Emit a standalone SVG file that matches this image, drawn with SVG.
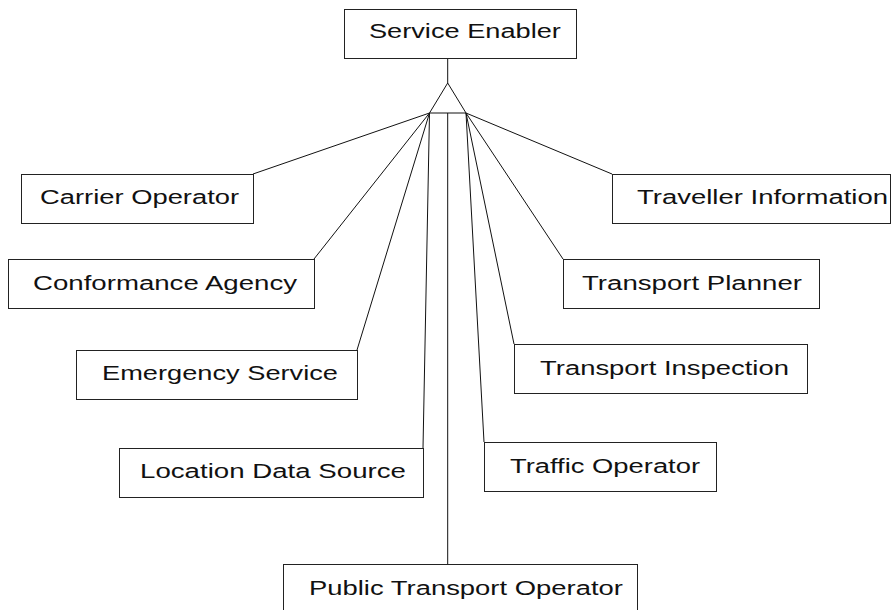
<svg xmlns="http://www.w3.org/2000/svg" width="894" height="610" viewBox="0 0 894 610">
<style>
.box{fill:#fff;stroke:#222;stroke-width:1}
.lbl{font-family:"Liberation Sans",Arial,sans-serif;font-size:21px;fill:#111}
.conn{stroke:#111;stroke-width:1;fill:none}
</style>
<rect width="894" height="610" fill="#fff"/>
<g id="connectors">
<line class="conn" x1="447.7" y1="58" x2="447.7" y2="83"/>
<polygon class="conn" points="447.7,83 429.5,113 466,113"/>
<line class="conn" x1="429.5" y1="113" x2="253" y2="174"/>
<line class="conn" x1="429.5" y1="113" x2="314" y2="259"/>
<line class="conn" x1="429.5" y1="113" x2="357" y2="350"/>
<line class="conn" x1="429.5" y1="113" x2="423" y2="448"/>
<line class="conn" x1="447.7" y1="113" x2="447.7" y2="564"/>
<line class="conn" x1="466" y1="113" x2="484" y2="442"/>
<line class="conn" x1="466" y1="113" x2="514" y2="344"/>
<line class="conn" x1="466" y1="113" x2="563" y2="259"/>
<line class="conn" x1="466" y1="113" x2="612" y2="174"/>
</g>
<g id="service-enabler">
<rect class="box" x="344.5" y="9.5" width="232" height="49"/>
<text class="lbl" transform="scale(1.3,1)" x="283.8" y="38.5" textLength="147.7" lengthAdjust="spacingAndGlyphs">Service Enabler</text>
</g>
<g id="carrier-operator">
<rect class="box" x="21.5" y="174.5" width="232" height="49"/>
<text class="lbl" transform="scale(1.3,1)" x="30.8" y="204.5" textLength="153.1" lengthAdjust="spacingAndGlyphs">Carrier Operator</text>
</g>
<g id="conformance-agency">
<rect class="box" x="8.5" y="259.5" width="306" height="49"/>
<text class="lbl" transform="scale(1.3,1)" x="25.4" y="290.5" textLength="203.1" lengthAdjust="spacingAndGlyphs">Conformance Agency</text>
</g>
<g id="emergency-service">
<rect class="box" x="76.5" y="350.5" width="281" height="49"/>
<text class="lbl" transform="scale(1.3,1)" x="78.5" y="380.5" textLength="181.5" lengthAdjust="spacingAndGlyphs">Emergency Service</text>
</g>
<g id="location-data-source">
<rect class="box" x="119.5" y="448.5" width="304" height="49"/>
<text class="lbl" transform="scale(1.3,1)" x="107.7" y="478.5" textLength="204.6" lengthAdjust="spacingAndGlyphs">Location Data Source</text>
</g>
<g id="public-transport-operator">
<rect class="box" x="283.5" y="564.5" width="354" height="60"/>
<text class="lbl" transform="scale(1.3,1)" x="237.7" y="595" textLength="241.5" lengthAdjust="spacingAndGlyphs">Public Transport Operator</text>
</g>
<g id="traveller-information">
<rect class="box" x="612.5" y="174.5" width="278" height="49"/>
<text class="lbl" transform="scale(1.3,1)" x="490" y="204.5" textLength="193.1" lengthAdjust="spacingAndGlyphs">Traveller Information</text>
</g>
<g id="transport-planner">
<rect class="box" x="563.5" y="259.5" width="256" height="49"/>
<text class="lbl" transform="scale(1.3,1)" x="447.7" y="290.5" textLength="169.2" lengthAdjust="spacingAndGlyphs">Transport Planner</text>
</g>
<g id="transport-inspection">
<rect class="box" x="514.5" y="344.5" width="293" height="49"/>
<text class="lbl" transform="scale(1.3,1)" x="415.4" y="375.5" textLength="191.5" lengthAdjust="spacingAndGlyphs">Transport Inspection</text>
</g>
<g id="traffic-operator">
<rect class="box" x="484.5" y="442.5" width="232" height="49"/>
<text class="lbl" transform="scale(1.3,1)" x="392.3" y="473.5" textLength="146.2" lengthAdjust="spacingAndGlyphs">Traffic Operator</text>
</g>
</svg>
